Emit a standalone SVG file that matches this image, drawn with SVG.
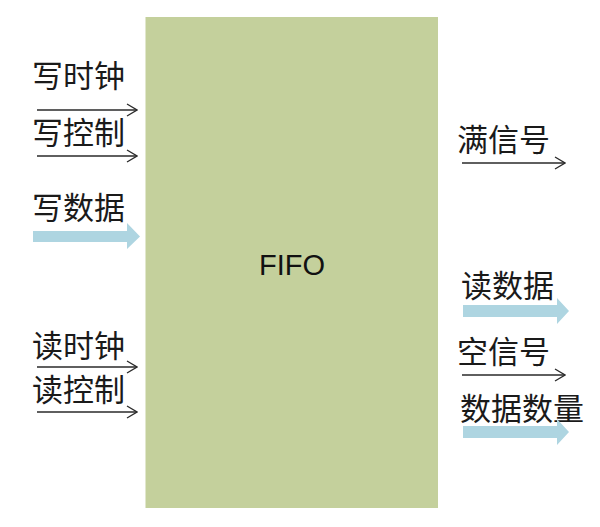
<svg xmlns="http://www.w3.org/2000/svg" width="600" height="527" viewBox="0 0 600 527">
<defs>
<style>
.lbl{font-family:"Noto Sans CJK SC","Liberation Sans",sans-serif;font-size:31px;fill:#1a1a1a}
.thin{stroke:#2a2a2a;stroke-width:1.3;fill:none}
.fat{fill:#aed5e1}
</style>
<marker id="open" markerWidth="12" markerHeight="14" refX="11" refY="7" orient="auto" markerUnits="userSpaceOnUse">
<path d="M1,1 L11,7 L1,13" fill="none" stroke="#2a2a2a" stroke-width="1.3"/>
</marker>
</defs>
<rect width="600" height="527" fill="#fff"/>
<g id="fifo">
<rect x="145.5" y="17" width="292.5" height="491" fill="#c4d09c"/>
<text x="292" y="275" text-anchor="middle" style="font-family:'Liberation Sans',sans-serif;font-size:29px;fill:#111">FIFO</text>
</g>
<g id="labels">
<text class="lbl" x="32" y="87">写时钟</text>
<text class="lbl" x="32" y="144">写控制</text>
<text class="lbl" x="32" y="219">写数据</text>
<text class="lbl" x="32" y="357">读时钟</text>
<text class="lbl" x="32" y="401">读控制</text>
<text class="lbl" x="457" y="151">满信号</text>
<text class="lbl" x="461" y="297">读数据</text>
<text class="lbl" x="457" y="363">空信号</text>
<text class="lbl" x="460" y="420">数据数量</text>
</g>
<g id="connectors">
<line class="thin" x1="37" y1="110" x2="137" y2="110" marker-end="url(#open)"/>
<line class="thin" x1="37" y1="156" x2="137" y2="156" marker-end="url(#open)"/>
<line class="thin" x1="37" y1="367" x2="137" y2="367" marker-end="url(#open)"/>
<line class="thin" x1="37" y1="412" x2="137" y2="412" marker-end="url(#open)"/>
<line class="thin" x1="462" y1="163" x2="565" y2="163" marker-end="url(#open)"/>
<line class="thin" x1="462" y1="375" x2="565" y2="375" marker-end="url(#open)"/>
<path class="fat" d="M33,231 H127 V223 L140,236.5 L127,249 V242 H33 Z"/>
<path class="fat" d="M463,305 H557 V298 L569,311 L557,324 V317 H463 Z"/>
<path class="fat" d="M463,426 H557 V419 L569,432 L557,445 V438 H463 Z"/>
</g>
</svg>
